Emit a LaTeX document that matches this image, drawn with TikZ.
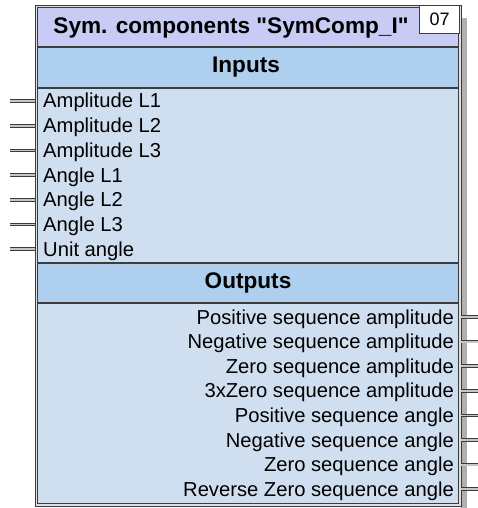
\documentclass[tikz,border=0pt]{standalone}
\usepackage{fontspec}
\setmainfont{Liberation Sans}
\definecolor{titleband}{RGB}{200,204,244}
\definecolor{headband}{RGB}{174,208,238}
\definecolor{bodyband}{RGB}{208,223,240}
\definecolor{framegray}{RGB}{60,60,60}
\definecolor{shadowgray}{RGB}{176,176,176}

\begin{document}
\begin{tikzpicture}[x=1pt, y=-1pt,
	pinline/.style={draw=framegray, double=gray!45, double distance=1.8pt, line width=0.9pt},
	sepline/.style={draw=framegray, line width=1.3pt},
	lbl/.style={inner sep=0pt, font=\fontsize{20.2}{24}\selectfont},
	hdr/.style={inner sep=0pt, font=\fontsize{22.6}{26}\selectfont\bfseries}]
	\useasboundingbox (0,0) rectangle (478,508);

	\fill[shadowgray] (461,18) rectangle (467,508);
	\fill[bodyband] (37,7) rectangle (460,505);
	\fill[titleband] (37,7) rectangle (460,47);
	\fill[headband] (37,47) rectangle (460,88);
	\fill[headband] (37,263) rectangle (460,303);
	\draw[sepline] (38,47) -- (460,47);
	\draw[sepline] (38,88) -- (460,88);
	\draw[sepline] (38,263) -- (460,263);
	\draw[sepline] (38,303) -- (460,303);
	\draw[draw=framegray, double=gray!25, double distance=1.8pt, line width=0.9pt] (36.5,6.5) rectangle (460,505);

	\node[draw=framegray, line width=0.9pt, fill=white, minimum width=40pt, minimum height=28pt, anchor=north east, inner sep=0pt, font=\fontsize{18}{20}\selectfont] (num) at (460,5) {07};

	\node[hdr] (title) at (231,28) {Sym. components \textquotedbl SymComp\_I\textquotedbl};
	\node[hdr] (inputs) at (246,67) {Inputs};
	\node[hdr] (outputs) at (248,283) {Outputs};

	\foreach \name [count=\i] in {Amplitude L1, Amplitude L2, Amplitude L3, Angle L1, Angle L2, Angle L3, Unit angle} {
		\node[lbl, anchor=base west] (in\i) at (43, 101+24.7*\i-24.7+7) {\name};
		\draw[pinline] (35, 101+24.7*\i-24.7) -- ++(-25,0);
	}
	\foreach \name [count=\i] in {Positive sequence amplitude, Negative sequence amplitude, Zero sequence amplitude, 3xZero sequence amplitude, Positive sequence angle, Negative sequence angle, Zero sequence angle, Reverse Zero sequence angle} {
		\node[lbl, anchor=base east] (out\i) at (454, 317+24.6*\i-24.6+7) {\name};
		\draw[pinline] (461, 317+24.6*\i-24.6) -- ++(17,0);
	}
\end{tikzpicture}
\end{document}
